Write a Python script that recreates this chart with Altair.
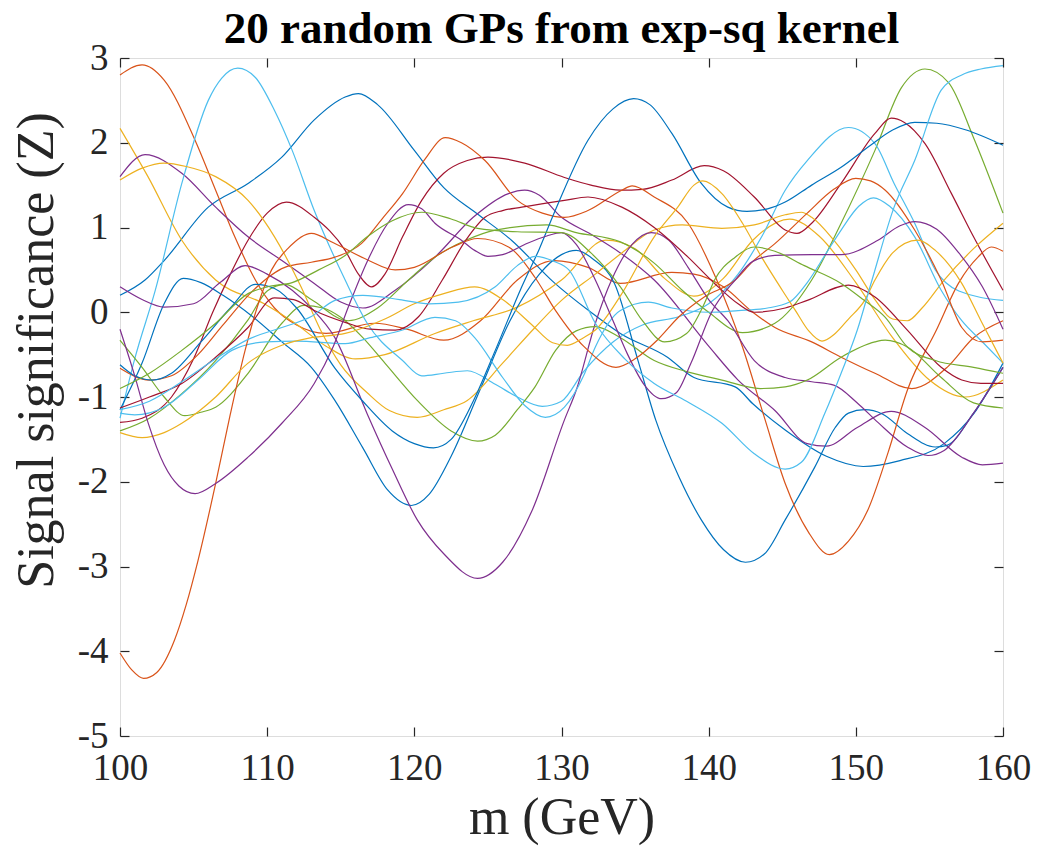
import altair as alt
import pandas as pd

# ---- data: key points (m [GeV], Z), one list per curve ----
gp01 = [(100,0.2),(101.7,0.38),(103,0.61),(106,1.24),(108.7,1.52),(111,1.83),(113.2,2.27),(115.3,2.54),(116.2,2.58),(117.5,2.45),(120,1.91),(122,1.47),(124.2,1.17),(126.6,0.85),(129.5,0.35),(132,0.0),(134,-0.25),(137.2,-0.53),(139,-0.77),(141.8,-0.88),(143,-1.08),(145.2,-1.39),(148,-1.7),(150.5,-1.82),(153,-1.75),(156,-1.55),(158,-1.2),(160,-0.6)]
gp02 = [(100,2.8),(101.5,2.92),(103,2.74),(105.1,2.03),(106.5,1.44),(107.8,0.89),(109.2,0.38),(110.5,0.05),(112,-0.15),(114,-0.25),(117.3,-0.13),(119.5,-0.2),(122,-0.33),(124.5,-0.1),(127,0.38),(129.5,0.61),(131.8,0.53),(134,0.34),(137.5,0.47),(139,0.45),(141,0.3),(143,0.0),(144.5,-0.18),(147,-0.35),(149,-0.53),(151.3,-0.72),(153.8,-0.9),(156.2,-0.65),(158,-0.3),(160,-0.1)]
gp03 = [(100,2.17),(101.9,1.6),(104.2,0.85),(106.5,0.38),(109.8,0.1),(111.9,-0.13),(114,-0.4),(116,-0.55),(118,-0.5),(121.4,-0.25),(124,-0.1),(127,0.06),(130,0.38),(133,0.85),(135,0.75),(137,0.4),(139,0.19),(141,0.4),(143,0.85),(145.5,1.1),(147.5,0.9),(150,0.35),(152.5,-0.3),(155,-0.8),(157.4,-1.0),(160,-0.8)]
gp04 = [(100,1.6),(101.7,1.86),(104.2,1.64),(106.5,1.24),(108.7,0.89),(111,0.61),(113.2,0.34),(115,0.12),(116.5,0.05),(118.7,0.26),(121.4,0.65),(124,1.12),(126.4,1.4),(127.5,1.44),(128.5,1.38),(130,1.12),(132,0.92),(134,0.7),(136.3,0.38),(140,-0.4),(142,-0.8),(144.5,-1.16),(146.7,-1.55),(148,-1.58),(150.1,-1.36),(152.4,-1.17),(154.7,-1.36),(157.2,-1.71),(158.6,-1.8),(160,-1.78)]
gp05 = [(100,-1.4),(102,-1.25),(104.2,-0.96),(106.5,-0.57),(108.7,-0.09),(110,0.25),(111.2,0.33),(113,0.15),(115.5,-0.1),(117.5,0.05),(119.6,0.38),(121.4,0.65),(123.5,0.85),(125.5,0.97),(129,1.03),(131,0.94),(134,0.83),(136.3,0.58),(138.2,0.26),(140,0.0),(142.3,-0.24),(144.5,-0.13),(147,0.38),(149,1.05),(151.3,1.91),(153.1,2.65),(154.7,2.87),(156.3,2.71),(158,2.06),(160,1.17)]
gp06 = [(100,-1.25),(101,-0.55),(102.4,0.26),(104.2,1.52),(106,2.5),(106.9,2.76),(108,2.88),(109.2,2.77),(110.5,2.38),(111.7,1.91),(113.2,1.2),(115.3,0.38),(116.8,-0.13),(119.2,-0.57),(120.5,-0.75),(122,-0.72),(123.6,-0.69),(125.5,-0.85),(127,-1.0),(128.7,-1.11),(130,-1.05),(131.5,-0.7),(133.5,-0.35),(135.5,-0.15),(138,-0.05),(140,0.1),(142,0.45),(143.6,0.89),(145.2,1.44),(146.7,1.79),(149.5,2.18),(151.3,1.99),(152.6,1.52),(154,1.05),(155.4,0.5),(157,0.25),(160,0.14)]
gp07 = [(100,-1.3),(101.5,-1.25),(103.5,-1.0),(105,-0.55),(106.3,0.0),(107.5,0.45),(108.7,0.85),(110,1.17),(111.3,1.3),(113.2,1.12),(115.3,0.73),(116.2,0.45),(117.1,0.3),(118,0.45),(119.2,0.89),(120.5,1.32),(122,1.64),(123.6,1.79),(125,1.83),(127.5,1.76),(130.2,1.59),(132,1.5),(134,1.44),(135.5,1.45),(137.5,1.56),(139.7,1.73),(141,1.67),(143.1,1.36),(145.2,0.97),(146,0.93),(147,1.05),(149,1.52),(151.3,2.11),(152.4,2.29),(153.3,2.24),(154.7,1.99),(156.5,1.4),(158,0.89),(160,0.26)]
gp08 = [(100,-1.15),(101.5,-0.6),(103,0.1),(104.3,0.4),(105.5,0.35),(107,0.2),(109,-0.05),(111,-0.35),(113,-0.65),(114.6,-1.04),(116.5,-1.6),(118.2,-2.1),(119.8,-2.28),(121,-2.15),(122.5,-1.7),(124.5,-0.9),(126.5,-0.1),(128.5,0.45),(130,0.68),(131,0.73),(132.2,0.62),(133.6,0.34),(135.2,-0.57),(136.4,-1.27),(138,-1.95),(139.5,-2.45),(141,-2.8),(142.5,-2.95),(143.8,-2.85),(145.2,-2.45),(147.2,-1.83),(148.6,-1.36),(149.5,-1.19),(150.6,-1.15),(151.8,-1.2),(153.5,-1.43),(155.4,-1.59),(156.2,-1.57),(158,-1.19),(160,-0.65)]
gp09 = [(100,-0.66),(102,-0.8),(103.5,-0.75),(105.3,-0.5),(107,-0.15),(109,0.25),(111.2,0.53),(113,0.59),(114.6,0.65),(116.4,0.81),(117.8,1.1),(119.2,1.4),(120.7,1.8),(122.1,2.06),(123.2,2.0),(124.8,1.79),(127,1.32),(128.7,1.17),(130.2,1.12),(131.8,1.2),(134.1,1.44),(134.8,1.49),(136.3,1.36),(138.6,1.05),(140.5,0.4),(142.3,-0.41),(143.8,-1.25),(145.2,-2.02),(146.8,-2.6),(148.2,-2.86),(149.5,-2.7),(150.8,-2.34),(152.2,-1.65),(153.5,-0.92),(155.5,-0.2),(157,0.35),(158.3,0.65),(159.2,0.77),(160,0.72)]
gp10 = [(100,1.56),(101.5,1.7),(103,1.76),(104.5,1.72),(106.5,1.6),(108.7,1.32),(110.5,0.89),(112.3,0.3),(113.6,-0.2),(115,-0.62),(116.8,-0.95),(118.3,-1.16),(120.2,-1.24),(122,-1.15),(123.6,-1.04),(126,-0.6),(128.2,-0.18),(130,0.14),(132.3,0.45),(134.1,0.7),(136.3,0.97),(138.2,1.03),(140.9,0.99),(143.1,1.03),(145.2,1.15),(146.3,1.18),(147,1.12),(148.5,0.85),(150,0.5),(151.3,0.15),(152.5,-0.08),(153.5,-0.1),(154.5,0.05),(156,0.38),(158,0.75),(160,1.05)]
gp11 = [(100,0.3),(101.5,0.15),(103,0.06),(105,0.1),(106.8,0.35),(108.5,0.55),(110,0.45),(111.7,0.26),(113,0.05),(114.6,-0.3),(116.8,-1.2),(118.5,-1.85),(120.2,-2.45),(122,-2.85),(124.3,-3.14),(126,-2.95),(128,-2.34),(130.2,-1.27),(131,-0.92),(132.3,-0.13),(133.4,0.38),(134.8,0.8),(136.1,0.94),(137.3,0.85),(138.6,0.53),(140,0.15),(141.3,-0.1),(143.1,-0.57),(145.2,-0.77),(147,-0.82),(148.5,-0.86),(150.1,-1.07),(151.5,-1.3),(153.5,-1.59),(154.9,-1.69),(156,-1.63),(158,-1.19),(160,-0.65)]
gp12 = [(100,-0.33),(101.5,-0.65),(103,-1.0),(104.4,-1.22),(105.5,-1.18),(106.5,-1.12),(108.7,-0.72),(111,-0.13),(112.5,0.08),(113.8,0.05),(115,-0.06),(116.5,-0.3),(118,-0.6),(120.2,-1.04),(122.5,-1.4),(124.3,-1.52),(125.5,-1.45),(127,-1.15),(128.2,-0.88),(129.6,-0.45),(131,-0.22),(132.3,-0.17),(134,-0.3),(136.3,-0.57),(138.5,-0.7),(140.9,-0.8),(143.5,-0.9),(145.2,-0.88),(146.7,-0.8),(149,-0.53),(151.3,-0.35),(152,-0.33),(153.5,-0.41),(155.8,-0.77),(158,-1.07),(160,-1.13)]
gp13 = [(100,-1.19),(101,-1.21),(103,-1.12),(105.3,-0.8),(107.6,-0.45),(109.9,-0.35),(112,-0.34),(115.3,-0.37),(117,-0.3),(119.2,-0.21),(121.4,-0.06),(122.8,-0.1),(124.1,-0.3),(126,-0.77),(127.5,-1.1),(128.9,-1.24),(130.2,-1.12),(131.5,-0.75),(132.3,-0.41),(134,0.02),(135.9,0.12),(137.5,0.05),(140,0.0),(142,0.02),(144,0.05),(145.5,0.12),(146.7,0.35),(148,0.7),(149,0.97),(150.2,1.25),(151.2,1.35),(152.3,1.25),(154,0.89),(155.8,0.26),(157.2,-0.1),(158.6,-0.35),(160,-0.6)]
gp14 = [(100,-1.13),(102,-1.0),(104.2,-0.84),(106.5,-0.53),(108.7,-0.18),(110.5,0.17),(111.8,0.15),(113.2,0.02),(115.3,-0.12),(117,-0.2),(118.7,-0.21),(120.3,-0.05),(121.9,0.38),(123.5,0.85),(124.8,1.12),(126,1.2),(127.3,1.24),(130.2,1.32),(131.8,1.36),(134.1,1.24),(136.3,1.0),(138.6,0.65),(140.4,0.34),(142,0.1),(143.1,0.0),(145.2,0.05),(146.7,0.14),(149.5,0.32),(151.3,0.18),(153.5,-0.21),(155.8,-0.65),(157.2,-0.8),(158.5,-0.84),(160,-0.84)]
gp15 = [(100,-0.62),(101,-0.75),(102.2,-0.8),(103.5,-0.72),(105.5,-0.35),(107.5,0.05),(109.2,0.33),(110.5,0.28),(112,0.05),(114.6,-0.66),(116.5,-1.05),(118.5,-1.4),(120,-1.55),(121.3,-1.6),(122.5,-1.5),(124,-1.05),(125.5,-0.45),(127.3,0.3),(128.5,0.75),(129.5,1.17),(131.8,2.03),(133.5,2.4),(134.9,2.52),(136,2.45),(137.5,2.11),(139.5,1.52),(141.3,1.24),(142.6,1.19),(144,1.22),(145.2,1.3),(147,1.5),(149,1.71),(151,1.97),(152.5,2.15),(154,2.24),(155.5,2.23),(157.5,2.15),(160,1.97)]
gp16 = [(100,-4.02),(100.8,-4.22),(101.6,-4.32),(102.5,-4.25),(103.7,-3.87),(104.5,-3.45),(105.3,-2.93),(106.5,-2.02),(107.5,-1.2),(108.5,-0.45),(109.4,0.1),(110.3,0.5),(111.4,0.75),(113,0.93),(114.5,0.82),(116.8,0.62),(118.7,0.5),(120,0.53),(122.6,0.77),(124.3,0.87),(126.4,0.77),(128.2,0.41),(129.6,0.02),(131.5,-0.4),(133.7,-0.65),(135,-0.55),(136.5,-0.33),(138,-0.05),(139.7,0.18),(141.8,0.38),(143,0.6),(144.5,0.81),(146.7,1.17),(148.5,1.45),(150,1.58),(151,1.55),(152,1.44),(154,0.97),(155.8,0.38),(157.2,-0.18),(158.6,-0.35),(160,-0.33)]
gp17 = [(100,-1.42),(101.5,-1.48),(103,-1.42),(104.2,-1.31),(106.5,-1.0),(108.7,-0.6),(111,-0.39),(113,-0.3),(115.3,-0.25),(118,-0.08),(120,0.1),(122,0.22),(124.1,0.3),(126,0.15),(128,-0.15),(129.4,-0.36),(130.4,-0.39),(131.5,-0.3),(132.3,-0.21),(134.1,0.22),(136.3,0.89),(137.9,1.24),(139,1.5),(139.6,1.55),(140.9,1.4),(142.3,1.05),(143.6,0.65),(145,0.26),(145.9,0.02),(146.8,-0.22),(147.7,-0.34),(148.6,-0.25),(149.5,-0.08),(150.6,0.14),(151.3,0.38),(152.5,0.7),(154.2,0.85),(155.4,0.73),(157.2,0.34),(158.5,-0.1),(160,-0.6)]
gp18 = [(100,-0.2),(101,-0.75),(101.9,-1.3),(103,-1.8),(104,-2.05),(105.1,-2.14),(106.5,-2.02),(108.7,-1.71),(111,-1.31),(113.2,-0.84),(114.5,-0.4),(115.6,0.1),(116.8,0.6),(118.2,1.05),(119.6,1.27),(120.5,1.22),(121.4,1.05),(123.2,0.85),(124.1,0.73),(125,0.66),(126,0.68),(127.5,0.8),(129,0.9),(130,0.94),(131,0.8),(132.3,0.38),(133.5,-0.1),(134.5,-0.5),(135.6,-0.85),(136.8,-1.02),(137.8,-0.95),(138.8,-0.6),(140.2,0.0),(141.8,0.38),(143,0.6),(144.5,0.67),(147,0.68),(149,0.68),(151.5,0.85),(153,1.02),(154,1.07),(155.5,0.98),(157,0.7),(158.6,0.3),(160,-0.2)]
gp19 = [(100,-0.9),(102,-0.72),(104.2,-0.45),(106.5,-0.13),(108.7,0.22),(110,0.3),(111.7,0.35),(113.5,0.5),(115.3,0.67),(116.8,0.89),(118.5,1.08),(120.5,1.18),(122.5,1.1),(124.3,0.99),(127,0.95),(130,0.94),(132,0.7),(134,0.3),(135.5,-0.1),(137,-0.35),(138.5,-0.25),(139.7,0.1),(140.4,0.38),(141.8,0.65),(143.1,0.77),(144.5,0.72),(146.5,0.55),(149,0.34),(150.5,0.15),(152,-0.06),(153.5,-0.41),(155.4,-0.57),(158,-0.65),(160,-0.72)]
gp20 = [(100,-1.15),(102,-1.05),(104.2,-0.82),(106.5,-0.55),(108.7,-0.32),(111,-0.18),(113,-0.05),(114.6,0.14),(116.5,0.2),(119,0.15),(121,0.1),(123,0.12),(125.5,0.3),(127,0.55),(128.2,0.66),(129.5,0.6),(130.5,0.5),(132.3,-0.13),(134.3,-0.55),(136.3,-0.84),(138.5,-1.05),(140.9,-1.31),(143.1,-1.67),(145.2,-1.85),(146.3,-1.77),(147.9,-1.19),(149,-0.72),(150.1,-0.21),(151.1,0.38),(152.6,1.24),(154,1.79),(155.8,2.62),(157.2,2.8),(158.5,2.87),(160,2.91)]

curves = [gp01, gp02, gp03, gp04, gp05, gp06, gp07, gp08, gp09, gp10,
          gp11, gp12, gp13, gp14, gp15, gp16, gp17, gp18, gp19, gp20]

# MATLAB default colour order, cycled over the 20 curves
matlab_colors = ["#0072BD", "#D95319", "#EDB120", "#7E2F8E", "#77AC30", "#4DBEEE", "#A2142F"]

x_ticks = [100, 110, 120, 130, 140, 150, 160]
y_ticks = [-5, -4, -3, -2, -1, 0, 1, 2, 3]

names = [f"GP{i+1:02d}" for i in range(len(curves))]
rows = []
for name, pts in zip(names, curves):
    for m, z in pts:
        rows.append({"m": m, "z": z, "curve": name})
df = pd.DataFrame(rows)
color_range = [matlab_colors[i % len(matlab_colors)] for i in range(len(curves))]

FONT = "Liberation Serif"
AX = "#262626"

xscale = alt.Scale(domain=[100, 160], nice=False, zero=False)
yscale = alt.Scale(domain=[-5, 3], nice=False, zero=False)
cscale = alt.Scale(domain=names, range=color_range)

lines = alt.Chart(df).mark_line(strokeWidth=1.2, interpolate="monotone").encode(
    x=alt.X("m:Q", scale=xscale,
            axis=alt.Axis(orient="bottom", values=x_ticks, title="m (GeV)", grid=False,
                          domain=False, offset=-9, tickSize=9, tickColor=AX, tickWidth=1.2,
                          labelFlush=False, labelExpr="'' + datum.value",
                          labelPadding=14, labelFontSize=37, labelFont=FONT, labelColor=AX,
                          titleFont=FONT, titleFontSize=52, titleFontWeight="normal",
                          titleColor=AX, titlePadding=6)),
    y=alt.Y("z:Q", scale=yscale,
            axis=alt.Axis(orient="left", values=y_ticks, title="Signal significance (Z)",
                          grid=False, domain=False, offset=-9, tickSize=9, tickColor=AX,
                          tickWidth=1.2, labelFlush=False, labelExpr="'' + datum.value",
                          labelPadding=12, labelFontSize=37, labelFont=FONT, labelColor=AX,
                          titleFont=FONT, titleFontSize=52, titleFontWeight="normal",
                          titleColor=AX, titlePadding=14, titleY=292)),
    color=alt.Color("curve:N", scale=cscale, legend=None),
)

mirror = alt.Chart(df).mark_line(opacity=0).encode(
    x=alt.X("m:Q", scale=xscale,
            axis=alt.Axis(orient="top", values=x_ticks, title=None, labels=False, grid=False,
                          domain=False, offset=-9, tickSize=9, tickColor=AX, tickWidth=1.2)),
    y=alt.Y("z:Q", scale=yscale,
            axis=alt.Axis(orient="right", values=y_ticks, title=None, labels=False, grid=False,
                          domain=False, offset=-9, tickSize=9, tickColor=AX, tickWidth=1.2)),
    detail="curve:N",
)

chart = alt.layer(mirror, lines).resolve_axis(x="independent", y="independent").properties(
    width=883, height=678,
    title=alt.TitleParams("20 random GPs from exp-sq kernel", font=FONT, fontSize=45,
                          fontWeight="bold", color="#000000", anchor="middle", offset=-13),
    autosize=alt.AutoSizeParams(type="none"),
    padding={"left": 120, "top": 58, "right": 55, "bottom": 111},
).configure_view(stroke="#4d4d4d", strokeWidth=1.5).configure(background="white")

chart.save("out.html", embed_options={"renderer": "svg", "actions": False})
